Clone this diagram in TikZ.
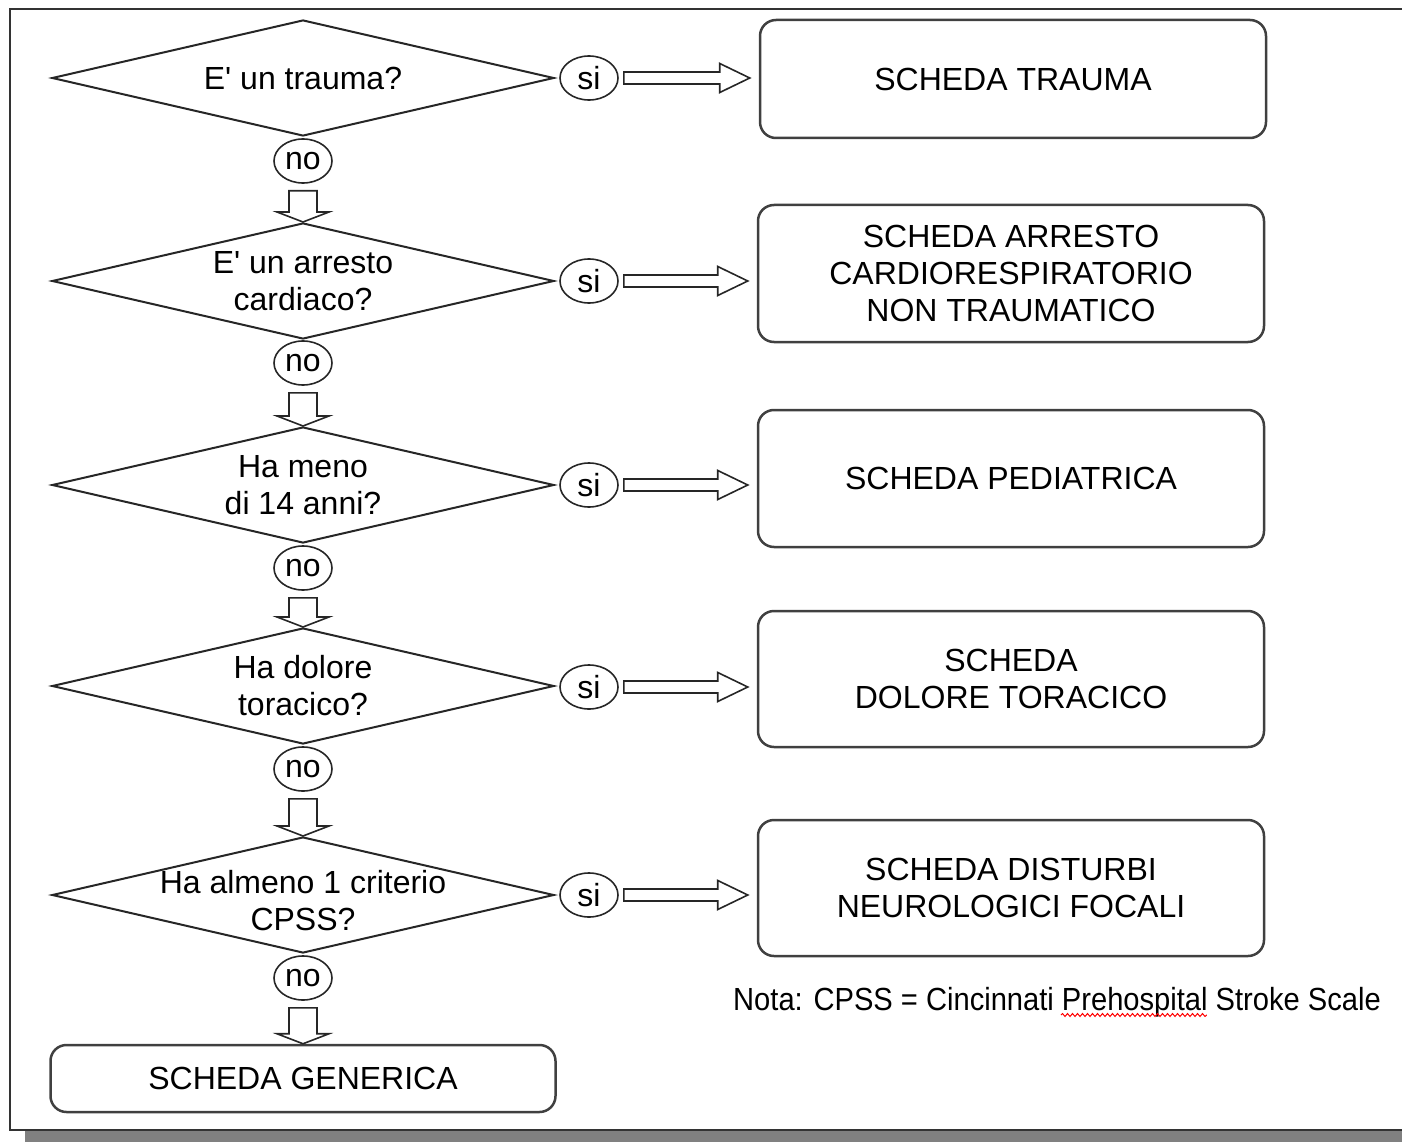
\documentclass[tikz,border=0pt]{standalone}
\usepackage{fontspec}
\setmainfont{Liberation Sans}
\newfontfamily\notafont[FakeStretch=0.91]{Liberation Sans}
\usetikzlibrary{shapes.geometric,calc,decorations.pathmorphing}

\tikzset{
  domanda/.style={diamond,draw=black!85,line width=2pt,inner sep=0pt,
    minimum width=502pt,minimum height=116pt},
  testo/.style={align=center,font=\fontsize{32}{37}\selectfont},
  risposta/.style={ellipse,draw=black!85,line width=1.6pt,inner sep=0pt,
    minimum width=58pt,minimum height=44pt,font=\fontsize{32}{37}\selectfont},
  scheda/.style={rectangle,rounded corners=16pt,draw=black!75,line width=2.5pt,
    minimum width=506pt,align=center,font=\fontsize{32}{37}\selectfont},
  giu/.style={draw=black!85,line width=1.6pt,fill=white,
    to path={($(\tikztostart)+(-14,7)$) -- ($(\tikztotarget)+(-14,-10)$)
      -- ++(-12,0) -- (\tikztotarget) -- ++(26,-10) -- ++(-12,0)
      -- ($(\tikztostart)+(14,7)$) -- cycle}},
  destra/.style={draw=black!85,line width=1.6pt,fill=white,
    to path={($(\tikztostart)+(5,-6)$) -- ($(\tikztotarget)+(-39,-6)$)
      -- ++(0,-8.5) -- ($(\tikztotarget)+(-9,0)$) -- ($(\tikztotarget)+(-39,14.5)$)
      -- ++(0,-8.5) -- ($(\tikztostart)+(5,6)$) -- cycle}}
}

\begin{document}
\begin{tikzpicture}[x=1pt,y=-1pt]
  \useasboundingbox (0,0) rectangle (1402,1142);
  % cornice
  \fill[black!50] (25,1131) rectangle (1402,1142);
  \draw[line width=2.5pt,black!80] (1402,9) -- (10,9) -- (10,1130) -- (1402,1130);

  % domande
  \draw (303,78) node[domanda,label={[testo]center:E\textquotesingle{} un trauma?}] (D1) {};
  \draw (303,281) node[domanda,label={[testo]center:E\textquotesingle{} un arresto\\cardiaco?}] (D2) {};
  \draw (303,485) node[domanda,label={[testo]center:Ha meno\\di 14 anni?}] (D3) {};
  \draw (303,686) node[domanda,label={[testo]center:Ha dolore\\toracico?}] (D4) {};
  \draw (303,895) node[domanda,label={[testo,yshift=-6pt]center:Ha almeno 1 criterio\\CPSS?}] (D5) {};

  % risposte
  \draw (589,78) node[risposta] (si1) {si};
  \draw (589,281) node[risposta] (si2) {si};
  \draw (589,485) node[risposta] (si3) {si};
  \draw (589,687) node[risposta] (si4) {si};
  \draw (589,895) node[risposta] (si5) {si};
  \draw (303,161) node[risposta] (no1) {no};
  \draw (303,363) node[risposta] (no2) {no};
  \draw (303,568) node[risposta] (no3) {no};
  \draw (303,769) node[risposta] (no4) {no};
  \draw (303,978) node[risposta] (no5) {no};

  % schede
  \draw (1013,79) node[scheda,minimum height=118pt] (S1) {SCHEDA TRAUMA};
  \draw (1011,273.5) node[scheda,minimum height=137pt] (S2)
    {SCHEDA ARRESTO\\CARDIORESPIRATORIO\\NON TRAUMATICO};
  \draw (1011,478.5) node[scheda,minimum height=137pt] (S3) {SCHEDA PEDIATRICA};
  \draw (1011,679) node[scheda,minimum height=136pt] (S4) {SCHEDA\\DOLORE TORACICO};
  \draw (1011,888) node[scheda,minimum height=136pt] (S5)
    {SCHEDA DISTURBI\\NEUROLOGICI FOCALI};
  \draw (303,1078.5) node[scheda,minimum width=505pt,minimum height=67pt] (SG)
    {SCHEDA GENERICA};

  % frecce
  \draw[giu] (no1.south) to (D2.north);
  \draw[giu] (no2.south) to (D3.north);
  \draw[giu] (no3.south) to (D4.north);
  \draw[giu] (no4.south) to (D5.north);
  \draw[giu] (no5.south) to (SG.north);
  \draw[destra] (si1.east) to (si1 -| S1.west);
  \draw[destra] (si2.east) to (si2 -| S2.west);
  \draw[destra] (si3.east) to (si3 -| S3.west);
  \draw[destra] (si4.east) to (si4 -| S4.west);
  \draw[destra] (si5.east) to (si5 -| S5.west);

  % nota
  \draw (733,1010) node[anchor=base west,inner sep=0pt,
    font=\notafont\fontsize{32}{37}\selectfont] (nota)
    {Nota: CPSS = Cincinnati Prehospital Stroke Scale};
  \draw[red,line width=1pt,decorate,decoration={snake,amplitude=1.5pt,segment length=5pt}]
    ($(nota.base west)!0.506!(nota.base east)+(0,5)$) --
    ($(nota.base west)!0.731!(nota.base east)+(0,5)$);
\end{tikzpicture}
\end{document}
